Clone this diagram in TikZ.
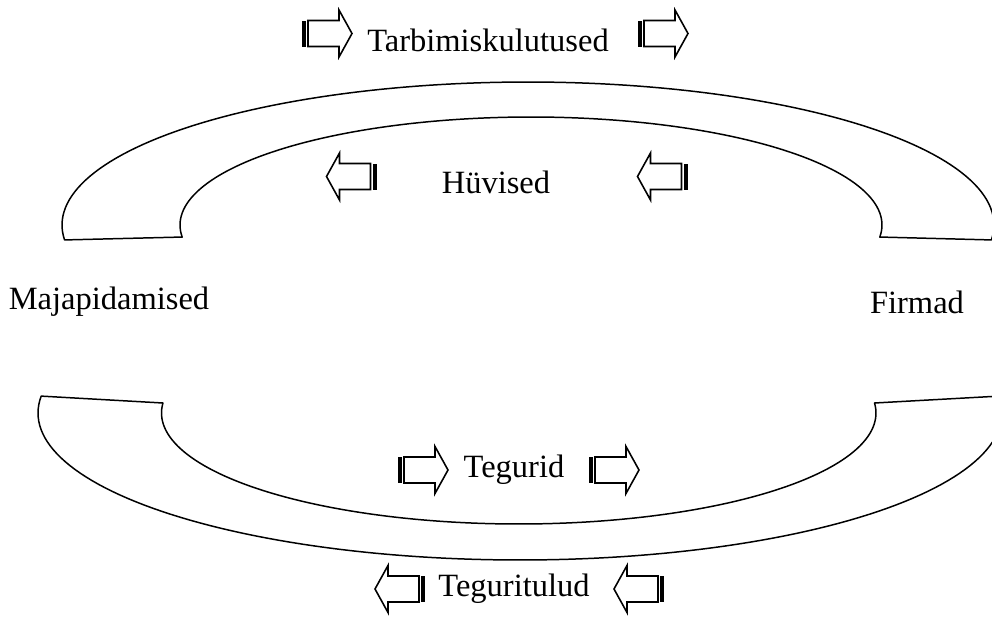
\documentclass[tikz,border=0pt]{standalone}
\usepackage{fontspec}
\setmainfont{Liberation Serif}
\begin{document}
\begin{tikzpicture}[x=0.02cm,y=-0.02cm,
  band/.style={draw=black,fill=white,line width=0.85pt,line join=round},
  lbl/.style={inner sep=0pt,font=\fontsize{18.5}{22}\selectfont},
  stripearrow/.pic={
    % tail stripe, then outlined body and head pointing along +x
    \fill[black] (-25,-13) rectangle (-21,13);
    \draw[line width=0.9pt,line join=miter,fill=white]
      (-19,-13) -- (12,-13) -- (12,-23.5) -- (25,0) -- (12,23.5)
      -- (12,13) -- (-19,13) -- cycle;
  }]
\useasboundingbox (0,0) rectangle (992,619);
\clip (0,0) rectangle (992,619);

% upper band (goods flow)
\draw[band]
  plot[domain=186:-6,samples=120,variable=\t]
    ({528+466*cos(\t)},{225-143*sin(\t)})
  -- plot[domain=-6.4:186.4,samples=120,variable=\t]
    ({531+351*cos(\t)},{225-108*sin(\t)})
  -- cycle;

% lower band (factors flow)
\draw[band]
  plot[domain=173.4:366.6,samples=120,variable=\t]
    ({520+482*cos(\t)},{413-147*sin(\t)})
  -- plot[domain=365.17:174.83,samples=120,variable=\t]
    ({518.75+357.25*cos(\t)},{413-111*sin(\t)})
  -- cycle;

% labels
\node[lbl] (tarb) at (488,40) {Tarbimiskulutused};
\node[lbl] (huv) at (496,182) {Hüvised};
\node[lbl] (maja) at (109,302) {Majapidamised};
\node[lbl] (firm) at (917,302) {Firmad};
\node[lbl] (teg) at (514,470) {Tegurid};
\node[lbl] (tegtul) at (514,589) {Teguritulud};

% direction arrows
\pic at (327,33.5) {stripearrow};
\pic at (663,33.5) {stripearrow};
\pic[xscale=-1] at (351.5,176.5) {stripearrow};
\pic[xscale=-1] at (662.5,176.5) {stripearrow};
\pic at (423,470) {stripearrow};
\pic at (614,470) {stripearrow};
\pic[xscale=-1] at (400,589) {stripearrow};
\pic[xscale=-1] at (639,589) {stripearrow};
\end{tikzpicture}
\end{document}
